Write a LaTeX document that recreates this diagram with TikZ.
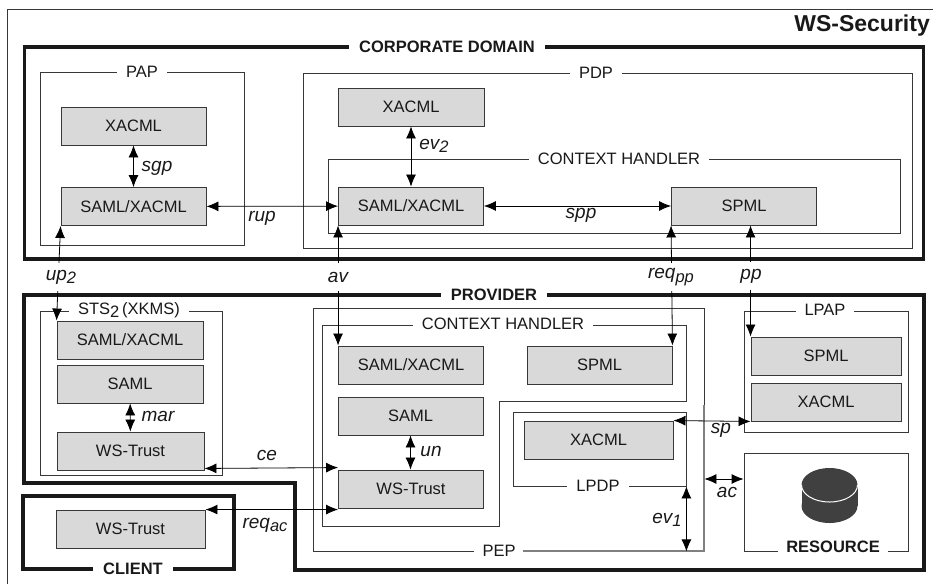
\documentclass[tikz,border=0pt]{standalone}
\usepackage{fontspec}
\setmainfont{Liberation Sans}
\usetikzlibrary{arrows.meta}
\definecolor{boxgray}{HTML}{D9D9D9}
\definecolor{linegray}{HTML}{383838}
\definecolor{drum}{HTML}{404040}
\newcommand{\lowtxt}[1]{\raisebox{-3.5pt}{\fontsize{16.5}{18}\selectfont #1}}

\begin{document}
\begin{tikzpicture}[x=1pt,y=-1pt,>={Latex[length=12pt,width=10pt]},
  every node/.style={inner sep=0pt,font=\fontsize{16.5}{18}\selectfont,text=black!90},
  box/.style={draw=linegray,line width=0.9pt,fill=boxgray},
  frame/.style={draw=linegray,line width=0.8pt},
  tag/.style={fill=white,inner xsep=9pt,inner ysep=2pt},
  headtag/.style={fill=white,inner xsep=10pt,inner ysep=3pt,font=\fontsize{16.5}{18}\selectfont\bfseries},
  rel/.style={font=\fontsize{19}{20}\selectfont\itshape},
  gaprel/.style={rel,fill=white,minimum height=28pt,inner xsep=3pt},
  link/.style={line width=0.8pt,<->},
  thickline/.style={line width=3.6pt,draw=black!90}]
  \useasboundingbox (0,0) rectangle (933,584);
  \draw[line width=0.8pt,linegray] (933,9) -- (7,9) -- (7,584);
  \node[font=\fontsize{23}{26}\selectfont\bfseries,anchor=east] (title) at (930,26) {WS-Security};

  \node[thickline,draw,minimum width=899,minimum height=212] (corp) at (474,153) {};
  \node[headtag] (corplabel) at (447,47) {CORPORATE DOMAIN};
  \draw[thickline] (24,295) -- (924,295) -- (924,570) -- (295,570) -- (295,483) -- (24,483) -- cycle;
  \node[headtag] (provlabel) at (494,295) {PROVIDER};
  \node[thickline,draw,minimum width=211,minimum height=73] (client) at (128.5,532.5) {};
  \node[headtag] (clientlabel) at (133,569) {CLIENT};

  \node[frame,minimum width=204,minimum height=173] (pap) at (142,158.5) {};
  \node[tag] (paplabel) at (142,72) {PAP};
  \node[box,minimum width=145,minimum height=38] (papx) at (133.5,126) {XACML};
  \node[box,minimum width=145,minimum height=38] (paps) at (133.5,206.5) {SAML/XACML};

  \node[frame,minimum width=609,minimum height=175] (pdp) at (607.5,160.5) {};
  \node[tag] (pdplabel) at (596,73) {PDP};
  \node[box,minimum width=146,minimum height=38] (pdpx) at (411,107) {XACML};
  \node[frame,minimum width=572,minimum height=74] (pdpch) at (614,196) {};
  \node[tag] (pdpchlabel) at (619,159) {CONTEXT HANDLER};
  \node[box,minimum width=145,minimum height=38] (pdps) at (411,206) {SAML/XACML};
  \node[box,minimum width=145,minimum height=38] (pdpm) at (744,206) {SPML};

  \node[frame,minimum width=182,minimum height=164] (sts) at (131,393) {};
  \node[tag] (stslabel) at (129,310) {STS\lowtxt{2}\,(XKMS)};
  \node[box,minimum width=146,minimum height=38] (stsx) at (130,340) {SAML/XACML};
  \node[box,minimum width=146,minimum height=38] (stss) at (130,384) {SAML};
  \node[box,minimum width=147,minimum height=38] (stst) at (130.5,451) {WS-Trust};
  \node[box,minimum width=149,minimum height=38] (clit) at (130.5,529) {WS-Trust};

  \node[frame,minimum width=391,minimum height=243] (pep) at (508.5,429.5) {};
  \node[tag] (peplabel) at (499,551) {PEP};
  \draw[line width=1.8pt,gray] (523,551) -- (704,551) -- (704,405);
  \draw[frame] (322,325) -- (686,325) -- (686,401) -- (499,401) -- (499,526) -- (322,526) -- cycle;
  \node[tag] (provchlabel) at (503,324) {CONTEXT HANDLER};
  \node[box,minimum width=145,minimum height=38] (provx) at (411,365) {SAML/XACML};
  \node[box,minimum width=145,minimum height=38] (provm) at (599.5,365) {SPML};
  \node[box,minimum width=145,minimum height=38] (provs) at (410.5,416) {SAML};
  \node[box,minimum width=145,minimum height=38] (provt) at (411,489) {WS-Trust};
  \node[frame,minimum width=173,minimum height=74] (lpdp) at (599.5,449) {};
  \node[tag] (lpdplabel) at (598,486) {LPDP};
  \node[box,minimum width=149,minimum height=38] (lpdpx) at (598.5,440) {XACML};

  \node[frame,minimum width=164,minimum height=121] (lpap) at (826,371.5) {};
  \node[tag] (lpaplabel) at (825,310) {LPAP};
  \node[box,minimum width=150,minimum height=38] (lpapm) at (826,356) {SPML};
  \node[box,minimum width=150,minimum height=38] (lpapx) at (826,402) {XACML};

  \node[frame,minimum width=164,minimum height=98] (res) at (826,502) {};
  \node[headtag,inner xsep=8pt] (reslabel) at (833,547) {RESOURCE};
  \fill[drum] (801.5,485) rectangle (857.5,506);
  \fill[drum] (829.5,485) ellipse (28pt and 17pt);
  \fill[drum] (829.5,506) ellipse (28pt and 17pt);
  \draw[white,line width=1pt] (801.5,485) arc[start angle=180,end angle=360,x radius=28pt,y radius=17pt];

  \draw[link] (papx) -- (paps);
  \node[rel] (sgp) at (157,168) {sgp};
  \draw[link] (paps) -- (pdps);
  \node[rel] (rup) at (262,218) {rup};
  \draw[link] (pdpx) -- (pdps);
  \node[rel] (ev2) at (434,146) {ev\lowtxt{2}};
  \draw[link] (pdps) -- (pdpm);
  \node[rel] (spp) at (581,215) {spp};
  \draw[link] (paps.south west) -- (stsx.north west |- stsx.north);
  \node[gaprel] (up2) at (61,277) {up\lowtxt{2}};
  \draw[link] (pdps.south west) -- (provx.north west);
  \node[gaprel] (av) at (338,277) {av};
  \draw[link] (pdpm.south west) -- (provm.north east);
  \node[gaprel] (reqpp) at (671,277) {req\lowtxt{pp}};
  \draw[link] (lpapm.north west |- pdpm.south) -- (lpapm.north west);
  \node[gaprel] (pp) at (751,276) {pp};
  \draw[link] (stss) -- (stst);
  \node[rel] (mar) at (158,416) {mar};
  \draw[link] (provs) -- (provs |- provt.north);
  \node[rel] (un) at (431,451) {un};
  \draw[link] ([yshift=2pt]stst.south east) -- ([yshift=2pt]provt.north west);
  \node[rel] (ce) at (267,455) {ce};
  \draw[link] (clit.north east) -- (clit.north east -| provt.west);
  \node[rel] (reqac) at (265,525) {req\lowtxt{ac}};
  \draw[link] (lpdpx.north east) -- (lpapx.south west);
  \node[rel] (sp) at (721,430) {sp};
  \draw[link] ([yshift=23pt]res.west) -- ([yshift=23pt]res.west -| pep.east);
  \node[rel] (ac) at (727,492) {ac};
  \draw[link] (lpdp.south east) -- (lpdp.south east |- pep.south);
  \node[rel] (ev1) at (667,520) {ev\lowtxt{1}};
\end{tikzpicture}
\end{document}
